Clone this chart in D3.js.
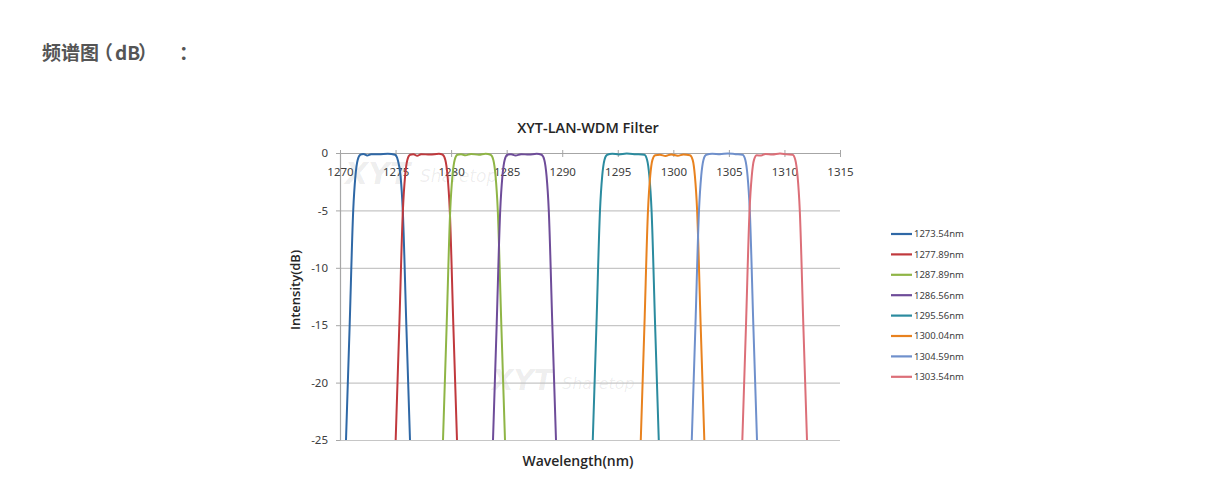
<!DOCTYPE html>
<html>
<head>
<meta charset="utf-8">
<script src="https://cdn.jsdelivr.net/npm/d3@7.9.0/dist/d3.min.js"></script>
<style>
  html, body { margin: 0; padding: 0; background: #fff; }
  svg { display: block; }
  .tick-label { font-family: "Noto Sans", "Open Sans", sans-serif; font-size: 11.5px; fill: #404040; }
  .legend-label { font-family: "Noto Sans", "Open Sans", sans-serif; font-size: 9.5px; fill: #404040; }
</style>
</head>
<body>
<svg id="chart" width="1228" height="490"></svg>
<script>
// header + chart labels
const pageHeading = ['频谱图', '（', 'dB', '）', '：'];
const chartTitle = 'XYT-LAN-WDM Filter';
const xTitle = 'Wavelength(nm)';
const yTitle = 'Intensity(dB)';

const xTicks = [1270, 1275, 1280, 1285, 1290, 1295, 1300, 1305, 1310, 1315];
const yTicks = [0, -5, -10, -15, -20, -25];

const channelNames = ['1273.54nm', '1277.89nm', '1287.89nm', '1286.56nm', '1295.56nm', '1300.04nm', '1304.59nm', '1303.54nm'];
const channelColors = ['#2f68a6', '#c0393d', '#8fb546', '#6e4c99', '#2b8b9f', '#e8821f', '#6f90cc', '#dc6f78'];

// [wavelength nm, intensity dB]
const ch1 = [[1270.54,-25],[1270.87,-15],[1271.19,-5],[1271.39,-2],[1271.59,-0.6],[1271.84,-0.15],[1272.1,-0.08],[1272.45,-0.22],[1272.8,-0.1],[1273.5,-0.1],[1274.3,-0.06],[1274.95,-0.15],[1275.2,-0.6],[1275.45,-2],[1275.65,-5],[1275.97,-15],[1276.30,-25]];
const ch2 = [[1275.01,-25],[1275.34,-15],[1275.66,-5],[1275.86,-2],[1276.06,-0.6],[1276.31,-0.15],[1276.6,-0.1],[1276.95,-0.25],[1277.3,-0.1],[1278.1,-0.14],[1278.9,-0.06],[1279.23,-0.15],[1279.48,-0.6],[1279.68,-2],[1279.88,-5],[1280.2,-15],[1280.53,-25]];
const ch3 = [[1279.27,-25],[1279.60,-15],[1279.92,-5],[1280.12,-2],[1280.32,-0.6],[1280.57,-0.15],[1280.9,-0.1],[1281.3,-0.2],[1281.8,-0.08],[1282.5,-0.16],[1283.1,-0.07],[1283.55,-0.15],[1283.80,-0.6],[1284.00,-2],[1284.20,-5],[1284.52,-15],[1284.85,-25]];
const ch4 = [[1283.77,-25],[1284.10,-15],[1284.42,-5],[1284.62,-2],[1284.82,-0.6],[1285.07,-0.15],[1285.4,-0.1],[1285.8,-0.22],[1286.3,-0.1],[1287.0,-0.14],[1287.7,-0.06],[1288.14,-0.15],[1288.39,-0.6],[1288.59,-2],[1288.79,-5],[1289.11,-15],[1289.44,-25]];
const ch5 = [[1292.75,-25],[1293.08,-15],[1293.40,-5],[1293.60,-2],[1293.80,-0.6],[1294.05,-0.15],[1294.5,-0.07],[1295.1,-0.12],[1295.8,-0.05],[1296.6,-0.1],[1297.39,-0.15],[1297.64,-0.6],[1297.84,-2],[1298.04,-5],[1298.36,-15],[1298.69,-25]];
const ch6 = [[1297.07,-25],[1297.40,-15],[1297.72,-5],[1297.92,-2],[1298.12,-0.6],[1298.37,-0.2],[1298.8,-0.15],[1299.3,-0.26],[1299.8,-0.12],[1300.4,-0.24],[1300.9,-0.12],[1301.49,-0.2],[1301.74,-0.6],[1301.94,-2],[1302.14,-5],[1302.46,-15],[1302.79,-25]];
const ch7 = [[1301.66,-25],[1301.99,-15],[1302.31,-5],[1302.51,-2],[1302.71,-0.6],[1302.96,-0.15],[1303.5,-0.06],[1304.2,-0.1],[1304.9,-0.04],[1305.6,-0.1],[1306.23,-0.15],[1306.48,-0.6],[1306.68,-2],[1306.88,-5],[1307.20,-15],[1307.53,-25]];
const ch8 = [[1306.21,-25],[1306.54,-15],[1306.86,-5],[1307.06,-2],[1307.26,-0.6],[1307.51,-0.2],[1307.9,-0.22],[1308.3,-0.08],[1308.9,-0.14],[1309.6,-0.05],[1310.2,-0.12],[1310.73,-0.15],[1310.98,-0.6],[1311.18,-2],[1311.38,-5],[1311.70,-15],[1312.03,-25]];
const channels = [ch1, ch2, ch3, ch4, ch5, ch6, ch7, ch8];

const svg = d3.select('#chart');

// heading, pieces placed one by one so the full-width punctuation keeps its width
const headingX = [42, 94, 115, 138, 179];
svg.append('text')
  .attr('y', 60)
  .attr('font-family', '"Noto Sans CJK SC", sans-serif')
  .attr('font-size', 19)
  .attr('font-weight', 700)
  .attr('fill', '#555')
  .selectAll('tspan')
  .data(pageHeading)
  .join('tspan')
  .attr('x', (d, i) => headingX[i])
  .text((d) => d);

const x = d3.scaleLinear().domain([1270, 1315]).range([340, 840]);
const y = d3.scaleLinear().domain([0, -25]).range([153, 440]);

// faint watermark
const mark = svg.append('g').attr('fill', '#000').attr('fill-opacity', 0.07)
  .attr('font-family', '"DejaVu Sans", sans-serif').attr('font-style', 'italic');
mark.append('text').attr('x', 345).attr('y', 184).attr('font-size', 30).attr('font-weight', 700).text('XYT');
mark.append('text').attr('x', 420).attr('y', 182).attr('font-size', 17).text('Sharetop');
mark.append('text').attr('x', 492).attr('y', 390).attr('font-size', 28).attr('font-weight', 700).text('XYT');
mark.append('text').attr('x', 562).attr('y', 389).attr('font-size', 16).text('Sharetop');

// horizontal gridlines
svg.append('g')
  .attr('transform', `translate(${x(1270)},0)`)
  .call(d3.axisLeft(y).tickValues(yTicks).tickFormat('').tickSize(-(x(1315) - x(1270))).tickSizeOuter(0))
  .call((g) => g.select('.domain').remove())
  .call((g) => g.selectAll('line').attr('stroke', '#c6c6c6').attr('stroke-width', 1.2));

// y axis
const yAxis = svg.append('g')
  .attr('transform', `translate(${x(1270)},0)`)
  .call(d3.axisLeft(y).tickValues(yTicks).tickFormat((d) => String(d)).tickSize(4).tickSizeOuter(0).tickPadding(8));
yAxis.select('.domain').attr('stroke', '#a6a6a6').attr('stroke-width', 1.2);
yAxis.selectAll('line').attr('stroke', '#a6a6a6');
yAxis.selectAll('text').attr('class', 'tick-label').attr('font-size', null).attr('font-family', null).attr('fill', null);

// x axis sits at 0 dB, labels drawn below it
const xAxis = svg.append('g')
  .attr('transform', `translate(0,${y(0)})`)
  .call(d3.axisBottom(x).tickValues(xTicks).tickFormat((d) => String(d)).tickSize(4).tickSizeOuter(0).tickPadding(11));
xAxis.select('.domain').attr('stroke', '#a6a6a6').attr('stroke-width', 1.2);
xAxis.selectAll('line').attr('stroke', '#a6a6a6').attr('y1', -3);
xAxis.selectAll('text').attr('class', 'tick-label').attr('font-size', null).attr('font-family', null).attr('fill', null);

// curves
const line = d3.line()
  .x((d) => x(d[0]))
  .y((d) => y(d[1]))
  .curve(d3.curveMonotoneX);

svg.append('g')
  .selectAll('path')
  .data(channels)
  .join('path')
  .attr('d', line)
  .attr('fill', 'none')
  .attr('stroke', (d, i) => channelColors[i])
  .attr('stroke-width', 2)
  .attr('stroke-linejoin', 'round');

// titles
svg.append('text')
  .attr('x', 588)
  .attr('y', 133)
  .attr('text-anchor', 'middle')
  .attr('font-family', '"Open Sans", sans-serif')
  .attr('font-size', 14.5)
  .attr('font-weight', 600)
  .attr('fill', '#262626')
  .text(chartTitle);

svg.append('text')
  .attr('x', 578)
  .attr('y', 466)
  .attr('text-anchor', 'middle')
  .attr('font-family', '"Open Sans", sans-serif')
  .attr('font-size', 14)
  .attr('font-weight', 600)
  .attr('fill', '#262626')
  .text(xTitle);

svg.append('text')
  .attr('transform', 'translate(300,290) rotate(-90)')
  .attr('text-anchor', 'middle')
  .attr('font-family', '"Open Sans", sans-serif')
  .attr('font-size', 13)
  .attr('font-weight', 600)
  .attr('fill', '#262626')
  .text(yTitle);

// legend
const legend = svg.append('g')
  .selectAll('g')
  .data(channelNames)
  .join('g')
  .attr('transform', (d, i) => `translate(891,${234 + i * 20.4})`);

legend.append('line')
  .attr('x1', 0)
  .attr('x2', 21)
  .attr('stroke', (d, i) => channelColors[i])
  .attr('stroke-width', 2.2);

legend.append('text')
  .attr('class', 'legend-label')
  .attr('x', 23)
  .attr('dy', '0.35em')
  .text((d) => d);
</script>
</body>
</html>
